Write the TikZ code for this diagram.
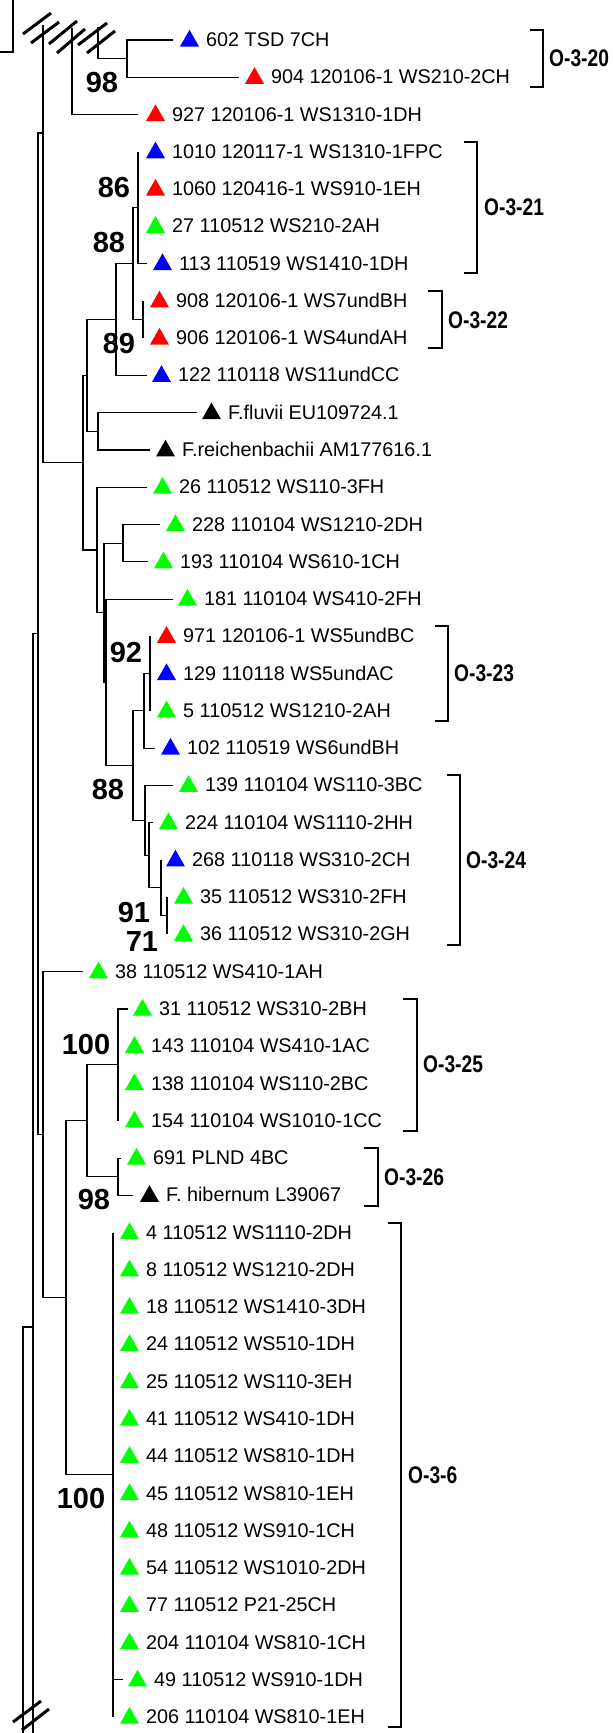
\documentclass[tikz,border=0pt]{standalone}
\usepackage{fontspec}
\setmainfont{Liberation Sans}
\newfontfamily\cladefont{Liberation Sans}[FakeStretch=0.8]
\definecolor{tblue}{RGB}{0,0,255}
\definecolor{tred}{RGB}{255,0,0}
\definecolor{tgreen}{RGB}{0,255,0}

% vertical position of leaf row #1
\newcommand\ry[1]{(40+37.27*(#1))}

\tikzset{
  branch/.style={line width=1.1pt},
  hashmark/.style={line width=3pt},
  brk/.style={line width=1.3pt},
  lbl/.style={anchor=base west, inner sep=0pt, font=\fontsize{19.8}{22}\selectfont},
  bs/.style={inner sep=0pt, font=\fontsize{29}{31}\selectfont\bfseries},
  clade/.style={anchor=west, inner sep=0pt, font=\cladefont\bfseries\fontsize{24}{26}\selectfont},
}

% leaf: name, row, branch tip x, triangle left x, colour, label
\newcommand\leaf[6]{%
  \coordinate (#1) at (#3,{\ry{#2}});
  \fill[#5] (#4,{\ry{#2}+6.5}) -- ++(19,0) -- ++(-9.5,-16.7) -- cycle;
  \node[lbl] (#1t) at (#4+26,{\ry{#2}+6.5}) {#6};
}

\begin{document}
\begin{tikzpicture}[x=1pt,y=-1pt]
\useasboundingbox (0,0) rectangle (613,1733);

% leaves
\leaf{l0}{0}{173}{180}{tblue}{602 TSD 7CH}
\leaf{l1}{1}{239}{245}{tred}{904 120106-1 WS210-2CH}
\leaf{l2}{2}{138}{146}{tred}{927 120106-1 WS1310-1DH}
\leaf{l3}{3}{138}{146}{tblue}{1010 120117-1 WS1310-1FPC}
\leaf{l4}{4}{138}{146}{tred}{1060 120416-1 WS910-1EH}
\leaf{l5}{5}{138}{146}{tgreen}{27 110512 WS210-2AH}
\leaf{l6}{6}{147}{153}{tblue}{113 110519 WS1410-1DH}
\leaf{l7}{7}{143}{150}{tred}{908 120106-1 WS7undBH}
\leaf{l8}{8}{143}{150}{tred}{906 120106-1 WS4undAH}
\leaf{l9}{9}{147}{152}{tblue}{122 110118 WS11undCC}
\leaf{l10}{10}{197}{202}{black}{F.fluvii EU109724.1}
\leaf{l11}{11}{150}{156}{black}{F.reichenbachii AM177616.1}
\leaf{l12}{12}{147}{153}{tgreen}{26 110512 WS110-3FH}
\leaf{l13}{13}{160}{166}{tgreen}{228 110104 WS1210-2DH}
\leaf{l14}{14}{148}{154}{tgreen}{193 110104 WS610-1CH}
\leaf{l15}{15}{173}{178}{tgreen}{181 110104 WS410-2FH}
\leaf{l16}{16}{150}{157}{tred}{971 120106-1 WS5undBC}
\leaf{l17}{17}{150}{157}{tblue}{129 110118 WS5undAC}
\leaf{l18}{18}{150}{157}{tgreen}{5 110512 WS1210-2AH}
\leaf{l19}{19}{155}{161}{tblue}{102 110519 WS6undBH}
\leaf{l20}{20}{173}{179}{tgreen}{139 110104 WS110-3BC}
\leaf{l21}{21}{153}{159}{tgreen}{224 110104 WS1110-2HH}
\leaf{l22}{22}{161}{166}{tblue}{268 110118 WS310-2CH}
\leaf{l23}{23}{167}{174}{tgreen}{35 110512 WS310-2FH}
\leaf{l24}{24}{167}{174}{tgreen}{36 110512 WS310-2GH}
\leaf{l25}{25}{83}{89}{tgreen}{38 110512 WS410-1AH}
\leaf{l26}{26}{128}{133}{tgreen}{31 110512 WS310-2BH}
\leaf{l27}{27}{118}{125}{tgreen}{143 110104 WS410-1AC}
\leaf{l28}{28}{118}{125}{tgreen}{138 110104 WS110-2BC}
\leaf{l29}{29}{118}{125}{tgreen}{154 110104 WS1010-1CC}
\leaf{l30}{30}{121}{127}{tgreen}{691 PLND 4BC}
\leaf{l31}{31}{133}{140}{black}{F. hibernum L39067}
\leaf{l32}{32}{113}{120}{tgreen}{4 110512 WS1110-2DH}
\leaf{l33}{33}{113}{120}{tgreen}{8 110512 WS1210-2DH}
\leaf{l34}{34}{113}{120}{tgreen}{18 110512 WS1410-3DH}
\leaf{l35}{35}{113}{120}{tgreen}{24 110512 WS510-1DH}
\leaf{l36}{36}{113}{120}{tgreen}{25 110512 WS110-3EH}
\leaf{l37}{37}{113}{120}{tgreen}{41 110512 WS410-1DH}
\leaf{l38}{38}{113}{120}{tgreen}{44 110512 WS810-1DH}
\leaf{l39}{39}{113}{120}{tgreen}{45 110512 WS810-1EH}
\leaf{l40}{40}{113}{120}{tgreen}{48 110512 WS910-1CH}
\leaf{l41}{41}{113}{120}{tgreen}{54 110512 WS1010-2DH}
\leaf{l42}{42}{113}{120}{tgreen}{77 110512 P21-25CH}
\leaf{l43}{43}{113}{120}{tgreen}{204 110104 WS810-1CH}
\leaf{l44}{44}{123}{128}{tgreen}{49 110512 WS910-1DH}
\leaf{l45}{45}{113}{120}{tgreen}{206 110104 WS810-1EH}

% internal nodes
\coordinate (n20) at (127,{\ry{0.5}});
\coordinate (A) at (138,{\ry{4.5}});
\coordinate (B) at (143,{\ry{7.5}});
\coordinate (C) at (133,{\ry{6}});
\coordinate (D) at (116,{\ry{7.5}});
\coordinate (E) at (98,{\ry{10.5}});
\coordinate (F) at (87,{\ry{9}});
\coordinate (G) at (123,{\ry{13.5}});
\coordinate (H) at (150,{\ry{17}});
\coordinate (I) at (144,{\ry{18}});
\coordinate (J) at (167,{\ry{23.5}});
\coordinate (K) at (161,{\ry{22.75}});
\coordinate (L) at (149,{\ry{21.875}});
\coordinate (M) at (145,{\ry{20.9375}});
\coordinate (N) at (133,{\ry{19.46875}});
\coordinate (O) at (106,{\ry{17.234375}});
\coordinate (P) at (104,{\ry{15.3671875}});
\coordinate (Q) at (97,{\ry{13.68359375}});
\coordinate (R) at (83,{\ry{11.341796875}});
\coordinate (W) at (118,{\ry{27.5}});
\coordinate (X) at (118,{\ry{30.5}});
\coordinate (Y) at (87,{\ry{29}});
\coordinate (Z) at (113,{\ry{38.5}});
\coordinate (V) at (66,{\ry{33.75}});
\coordinate (U) at (43,{\ry{29.375}});
\coordinate (S) at (43,133);
\coordinate (T) at (38,{(133+\ry{29.375})/2});
\coordinate (c1) at (33,1327);
% ends of the cut branches
\coordinate (h1) at (43,25);
\coordinate (h2) at (72,28);
\coordinate (h3) at (98,27);
\coordinate (b1) at (33,1733);
\coordinate (b2) at (23,1733);

% branches
\draw[branch] (n20) |- (l0) (n20) |- (l1) (h3) |- (n20) (h2) |- (l2);
\draw[branch] (A) |- (l3) (A) |- (l4) (A) |- (l5) (A) |- (l6);
\draw[branch] (B) |- (l7) (B) |- (l8);
\draw[branch] (C) |- (A) (C) |- (B);
\draw[branch] (D) |- (C) (D) |- (l9);
\draw[branch] (E) |- (l10) (E) |- (l11);
\draw[branch] (F) |- (D) (F) |- (E);
\draw[branch] (G) |- (l13) (G) |- (l14);
\draw[branch] (H) |- (l16) (H) |- (l17) (H) |- (l18);
\draw[branch] (I) |- (H) (I) |- (l19);
\draw[branch] (J) |- (l23) (J) |- (l24);
\draw[branch] (K) |- (l22) (K) |- (J);
\draw[branch] (L) |- (l21) (L) |- (K);
\draw[branch] (M) |- (l20) (M) |- (L);
\draw[branch] (N) |- (I) (N) |- (M);
\draw[branch] (O) |- (l15) (O) |- (N);
\draw[branch] (P) |- (G) (P) |- (O);
\draw[branch] (Q) |- (l12) (Q) |- (P);
\draw[branch] (R) |- (F) (R) |- (Q);
\draw[branch] (h1) -- (S) |- (R);
\draw[branch] (W) |- (l26) (W) |- (l27) (W) |- (l28) (W) |- (l29);
\draw[branch] (X) |- (l30) (X) |- (l31);
\draw[branch] (Y) |- (W) (Y) |- (X);
\draw[branch] (Z) |- (l32) (Z) |- (l33) (Z) |- (l34) (Z) |- (l35) (Z) |- (l36)
  (Z) |- (l37) (Z) |- (l38) (Z) |- (l39) (Z) |- (l40) (Z) |- (l41) (Z) |- (l42)
  (Z) |- (l43) (Z) |- (l44) (Z) |- (l45);
\draw[branch] (V) |- (Y) (V) |- (Z);
\draw[branch] (U) |- (l25) (U) |- (V);
\draw[branch] (T) |- (S) (T) |- (U);
\draw[branch] (b1) |- (T) (b2) |- (c1);

% break marks on the cut branches
\draw[hashmark] (23,34) -- (51,13) (31,43) -- (59,22);
\draw[hashmark] (49,44) -- (77,21) (57,53) -- (85,29);
\draw[hashmark] (78,45) -- (107,23) (87,53) -- (115,31);
\draw[hashmark] (13,1722) -- (41,1701) (22,1730) -- (49,1709);

% rest of the tree, top left
\draw[brk] (13,0) -- (13,52) -- (0,52);

% bootstrap values
\node[bs] (bs1) at (102,83) {98};
\node[bs] (bs2) at (114,188) {86};
\node[bs] (bs3) at (109,243) {88};
\node[bs] (bs4) at (119,344) {89};
\node[bs] (bs5) at (126,653) {92};
\node[bs] (bs6) at (108,790) {88};
\node[bs] (bs7) at (134,913) {91};
\node[bs] (bs8) at (142,942) {71};
\node[bs] (bs9) at (86,1045) {100};
\node[bs] (bs10) at (94,1200) {98};
\node[bs] (bs11) at (81,1498) {100};

% clade brackets
\draw[brk] (530,30) -- (543,30) -- (543,87) -- (530,87);
\node[clade] (k20) at (549,58) {O-3-20};
\draw[brk] (464,142) -- (477,142) -- (477,273) -- (464,273);
\node[clade] (k21) at (484,207) {O-3-21};
\draw[brk] (428,291) -- (442,291) -- (442,348) -- (428,348);
\node[clade] (k22) at (448,320) {O-3-22};
\draw[brk] (435,626) -- (448,626) -- (448,721) -- (435,721);
\node[clade] (k23) at (454,673) {O-3-23};
\draw[brk] (447,775) -- (460,775) -- (460,945) -- (447,945);
\node[clade] (k24) at (466,860) {O-3-24};
\draw[brk] (403,999) -- (417,999) -- (417,1131) -- (403,1131);
\node[clade] (k25) at (423,1064) {O-3-25};
\draw[brk] (364,1148) -- (378,1148) -- (378,1206) -- (364,1206);
\node[clade] (k26) at (384,1177) {O-3-26};
\draw[brk] (388,1223) -- (401,1223) -- (401,1727) -- (388,1727);
\node[clade] (k6) at (408,1475) {O-3-6};
\end{tikzpicture}
\end{document}
